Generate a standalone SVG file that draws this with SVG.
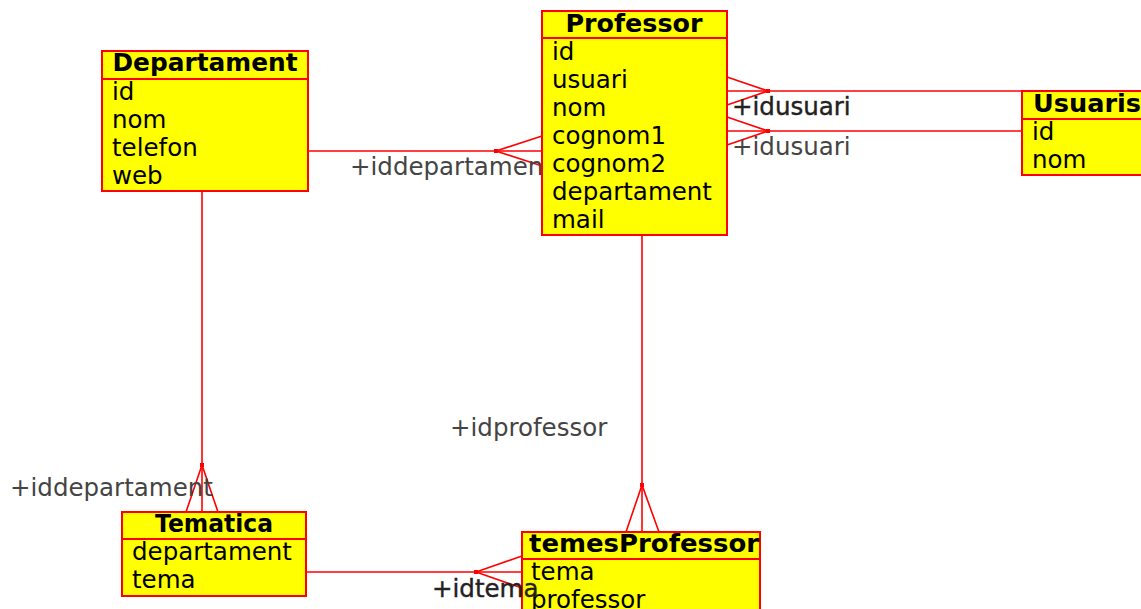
<svg xmlns="http://www.w3.org/2000/svg" width="1141" height="609" viewBox="0 0 1141 609">
  <style>
    .box { fill: #ffff00; stroke: #ff0000; stroke-width: 2; }
    .sep { stroke: #ff0000; stroke-width: 2; }
    .title { font-family: "DejaVu Sans", Verdana, sans-serif; font-weight: bold; font-size: 24px; fill: #000; text-anchor: middle; }
    .attr { font-family: "DejaVu Sans", Verdana, sans-serif; font-size: 24.5px; fill: #000; }
    .rel { fill: none; stroke: #ff0000; stroke-width: 1.6; }
    .dot { fill: #ff0000; }
    .lbl { font-family: "DejaVu Sans", Verdana, sans-serif; font-size: 24.5px; fill: #444; }
    .lbl-dark { font-family: "DejaVu Sans", Verdana, sans-serif; font-size: 24.5px; fill: #222; stroke: #222; stroke-width: 0.4; }
  </style>
  <defs>
    <clipPath id="clip-temes">
      <rect x="522" y="532" width="238" height="80"/>
    </clipPath>
  </defs>
  <rect width="1141" height="609" fill="#ffffff"/>

  <!-- table drawn beneath its relation label -->
  <g id="node-temesProfessor">
    <rect class="box" x="522" y="532" width="238" height="90"/>
    <line class="sep" x1="522" y1="559" x2="760" y2="559"/>
    <text class="title" x="644" y="552" textLength="230" lengthAdjust="spacingAndGlyphs" clip-path="url(#clip-temes)">temesProfessor</text>
    <text class="attr" x="531" y="580">tema</text>
    <text class="attr" x="531" y="608">professor</text>
  </g>

  <g id="connectors">
    <!-- Departament 1..n Professor -->
    <g id="rel-departament-professor">
      <line class="rel" x1="308" y1="151" x2="542" y2="151"/>
      <polyline class="rel" points="542,136 496,151 542,166"/>
      <rect class="dot" x="494" y="149" width="4" height="4"/>
      <text class="lbl" x="350" y="175">+iddepartament</text>
    </g>
    <!-- Usuaris 1..n Professor (two links) -->
    <g id="rel-usuaris-professor-1">
      <line class="rel" x1="727" y1="91" x2="1141" y2="91"/>
      <polyline class="rel" points="727,77 768,91 727,105"/>
      <rect class="dot" x="766" y="89" width="4" height="4"/>
      <text class="lbl-dark" x="732" y="115">+idusuari</text>
    </g>
    <g id="rel-usuaris-professor-2">
      <line class="rel" x1="727" y1="131" x2="1022" y2="131"/>
      <polyline class="rel" points="727,117 768,131 727,145"/>
      <rect class="dot" x="766" y="129" width="4" height="4"/>
      <text class="lbl" x="732" y="155">+idusuari</text>
    </g>
    <!-- Departament 1..n Tematica -->
    <g id="rel-departament-tematica">
      <line class="rel" x1="202" y1="191" x2="202" y2="512"/>
      <polyline class="rel" points="186,512 202,465 218,512"/>
      <rect class="dot" x="200" y="463" width="4" height="4"/>
      <text class="lbl" x="10" y="496">+iddepartament</text>
    </g>
    <!-- Professor 1..n temesProfessor -->
    <g id="rel-professor-temes">
      <line class="rel" x1="642" y1="235" x2="642" y2="532"/>
      <polyline class="rel" points="626,532 642,485 659,532"/>
      <rect class="dot" x="640" y="483" width="4" height="4"/>
      <text class="lbl" x="450" y="436">+idprofessor</text>
    </g>
    <!-- Tematica 1..n temesProfessor -->
    <g id="rel-tematica-temes">
      <line class="rel" x1="306" y1="572" x2="522" y2="572"/>
      <polyline class="rel" points="522,556 476,572 522,588"/>
      <rect class="dot" x="474" y="570" width="4" height="4"/>
      <text class="lbl-dark" x="432" y="597">+idtema</text>
    </g>
  </g>

  <g id="node-departament">
    <rect class="box" x="102" y="51" width="206" height="140"/>
    <line class="sep" x1="102" y1="79" x2="308" y2="79"/>
    <text class="title" x="205" y="71" textLength="185" lengthAdjust="spacingAndGlyphs">Departament</text>
    <text class="attr" x="112" y="100">id</text>
    <text class="attr" x="112" y="128">nom</text>
    <text class="attr" x="112" y="156">telefon</text>
    <text class="attr" x="112" y="184">web</text>
  </g>

  <g id="node-professor">
    <rect class="box" x="542" y="11" width="185" height="224"/>
    <line class="sep" x1="542" y1="38" x2="727" y2="38"/>
    <text class="title" x="634" y="32" textLength="137" lengthAdjust="spacingAndGlyphs">Professor</text>
    <text class="attr" x="552" y="60">id</text>
    <text class="attr" x="552" y="88">usuari</text>
    <text class="attr" x="552" y="116">nom</text>
    <text class="attr" x="552" y="144">cognom1</text>
    <text class="attr" x="552" y="172">cognom2</text>
    <text class="attr" x="552" y="200">departament</text>
    <text class="attr" x="552" y="228">mail</text>
  </g>

  <g id="node-usuaris">
    <rect class="box" x="1022" y="91" width="124" height="84"/>
    <line class="sep" x1="1022" y1="119" x2="1146" y2="119"/>
    <text class="title" x="1087" y="112" textLength="108" lengthAdjust="spacingAndGlyphs">Usuaris</text>
    <text class="attr" x="1032" y="140">id</text>
    <text class="attr" x="1032" y="168">nom</text>
  </g>

  <g id="node-tematica">
    <rect class="box" x="122" y="512" width="184" height="84"/>
    <line class="sep" x1="122" y1="539" x2="306" y2="539"/>
    <text class="title" x="214" y="532" textLength="118" lengthAdjust="spacingAndGlyphs">Tematica</text>
    <text class="attr" x="132" y="560">departament</text>
    <text class="attr" x="132" y="588">tema</text>
  </g>
</svg>
